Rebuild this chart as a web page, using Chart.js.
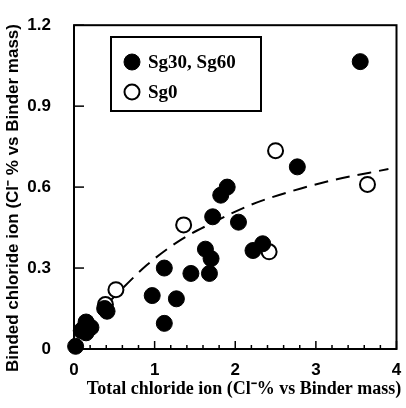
<!DOCTYPE html>
<html>
<head>
<meta charset="utf-8">
<script src="https://cdn.jsdelivr.net/npm/chart.js@4/dist/chart.umd.min.js"></script>
<style>
  html, body { margin: 0; padding: 0; background: #fff; }
  #wrap { width: 406px; height: 408px; }
</style>
</head>
<body>
<div id="wrap"><canvas id="c" width="406" height="408"></canvas></div>
<script>
// ---- Data ----
const filledX = [3.55, 2.77, 1.82, 1.90, 1.72, 2.04, 2.22, 2.34, 1.63, 1.70, 1.68, 1.45, 1.12, 0.97, 1.27, 1.12, 0.38, 0.41, 0.15, 0.21, 0.15, 0.09, 0.02];
const filledY = [1.065, 0.675, 0.57, 0.60, 0.49, 0.47, 0.365, 0.39, 0.37, 0.335, 0.28, 0.28, 0.30, 0.198, 0.186, 0.095, 0.15, 0.14, 0.10, 0.08, 0.06, 0.068, 0.01];
const openX = [2.50, 3.64, 2.42, 1.36, 0.52, 0.39, 0.12];
const openY = [0.735, 0.61, 0.36, 0.46, 0.22, 0.165, 0.075];
const curveX = [0.42, 0.9, 1.3, 1.7, 2.2, 2.7, 3.2, 3.9];
const curveY = [0.17, 0.31, 0.40, 0.465, 0.535, 0.585, 0.625, 0.667];
const xTicks = [0, 1, 2, 3, 4];
const yTicks = [0, 0.3, 0.6, 0.9, 1.2];
const seriesLabels = ['Sg30, Sg60', 'Sg0'];
const xTitle = 'Total chloride ion (Cl\u207B% vs Binder mass)';
const yTitle = 'Binded chloride ion (Cl\u207B % vs Binder mass)';

const zip = (xs, ys) => xs.map((x, i) => ({ x, y: ys[i] }));

const framePlugin = {
  id: 'frame',
  beforeDatasetsDraw(chart) {
    const { ctx, chartArea: a, scales } = chart;
    ctx.save();
    ctx.strokeStyle = '#000';
    ctx.lineWidth = 2;
    ctx.strokeRect(a.left, a.top, a.right - a.left, a.bottom - a.top);
    ctx.lineWidth = 1.5;
    const xs = scales.x;
    for (let i = 0; i <= 20; i++) {
      const v = i * 0.2;
      const px = xs.getPixelForValue(v);
      const major = Math.abs(v - Math.round(v)) < 1e-6;
      const len = major ? 8 : 4;
      ctx.beginPath();
      ctx.moveTo(px, a.bottom);
      ctx.lineTo(px, a.bottom - len);
      ctx.stroke();
    }
    const ys = scales.y;
    yTicks.forEach(v => {
      const py = ys.getPixelForValue(v);
      ctx.beginPath();
      ctx.moveTo(a.left, py);
      ctx.lineTo(a.left + 10, py);
      ctx.stroke();
    });
    ctx.restore();
  }
};

const titlesPlugin = {
  id: 'titles',
  afterDraw(chart) {
    const { ctx } = chart;
    ctx.save();
    ctx.fillStyle = '#000';
    ctx.textAlign = 'center';
    ctx.textBaseline = 'middle';
    ctx.font = 'bold 18px "Liberation Serif", "Times New Roman", serif';
    ctx.fillText(xTitle, 244, 389);
    ctx.translate(13, 198);
    ctx.rotate(-Math.PI / 2);
    ctx.font = 'bold 17px "Liberation Sans", Arial, sans-serif';
    ctx.fillText(yTitle, 0, 0);
    ctx.restore();
  }
};

const legendPlugin = {
  id: 'boxLegend',
  afterDraw(chart) {
    const { ctx } = chart;
    ctx.save();
    ctx.fillStyle = '#fff';
    ctx.fillRect(111, 37, 150, 74);
    ctx.strokeStyle = '#000';
    ctx.lineWidth = 2;
    ctx.strokeRect(111, 37, 150, 74);
    const rows = [62, 92];
    [0, 1].forEach((di, k) => {
      const ds = chart.data.datasets[di];
      ctx.beginPath();
      ctx.arc(132, rows[k], ds.pointRadius, 0, Math.PI * 2);
      ctx.fillStyle = ds.pointBackgroundColor;
      ctx.fill();
      ctx.lineWidth = ds.pointBorderWidth;
      ctx.strokeStyle = ds.pointBorderColor;
      ctx.stroke();
      ctx.fillStyle = '#000';
      ctx.font = 'bold 19px "Liberation Serif", serif';
      ctx.textBaseline = 'middle';
      ctx.textAlign = 'left';
      ctx.fillText(ds.label, 148, rows[k] + 1);
    });
    ctx.restore();
  }
};

new Chart(document.getElementById('c'), {
  type: 'scatter',
  data: {
    datasets: [
      {
        label: seriesLabels[0],
        data: zip(filledX, filledY),
        pointRadius: 8,
        pointBackgroundColor: '#000',
        pointBorderColor: '#000',
        pointBorderWidth: 1,
        clip: false
      },
      {
        label: seriesLabels[1],
        data: zip(openX, openY),
        pointRadius: 7.5,
        pointBackgroundColor: '#fff',
        pointBorderColor: '#000',
        pointBorderWidth: 2,
        clip: false
      },
      {
        type: 'line',
        label: 'fit',
        data: zip(curveX, curveY),
        borderColor: '#000',
        borderWidth: 2,
        borderDash: [14, 8],
        pointRadius: 0,
        cubicInterpolationMode: 'monotone',
        fill: false
      }
    ]
  },
  options: {
    responsive: false,
    animation: false,
    events: [],
    layout: { padding: { top: 21, right: 0, left: 0, bottom: 0 } },
    plugins: { legend: { display: false }, tooltip: { enabled: false } },
    scales: {
      x: {
        type: 'linear', min: 0, max: 4,
        afterBuildTicks: s => { s.ticks = xTicks.map(v => ({ value: v })); },
        afterFit: s => { s.height = 59; },
        grid: { display: false },
        border: { display: false },
        ticks: {
          color: '#000', padding: 3,
          font: { family: '"Liberation Sans", Arial, sans-serif', size: 17, weight: 'bold' },
          maxRotation: 0,
          callback: v => String(v)
        },
        title: { display: false }
      },
      y: {
        type: 'linear', min: 0, max: 1.2,
        afterBuildTicks: s => { s.ticks = yTicks.map(v => ({ value: v })); },
        afterFit: s => { s.width = 74; },
        grid: { display: false },
        border: { display: false },
        ticks: {
          color: '#000', padding: 15,
          font: { family: '"Liberation Sans", Arial, sans-serif', size: 17, weight: 'bold' },
          callback: v => (v === 0 ? '0' : v.toFixed(1))
        },
        title: { display: false }
      }
    }
  },
  plugins: [framePlugin, titlesPlugin, legendPlugin]
});
</script>
</body>
</html>
